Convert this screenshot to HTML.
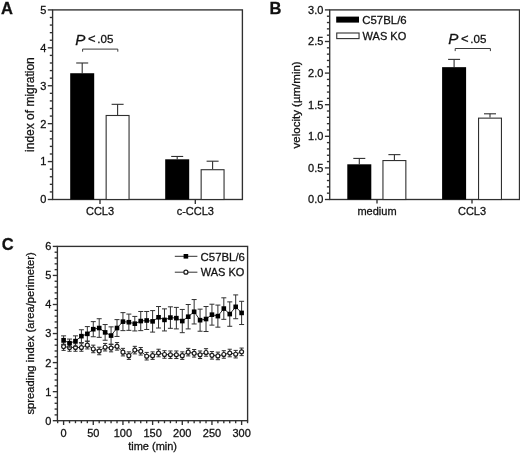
<!DOCTYPE html>
<html><head><meta charset="utf-8"><title>Figure</title>
<style>
html,body{margin:0;padding:0;background:#fff;}
body{width:520px;height:453px;overflow:hidden;}
svg{display:block;}
text{font-family:"Liberation Sans",sans-serif;fill:#111;stroke:#111;stroke-width:0.28px;}
svg{filter:grayscale(1);}
</style></head>
<body>
<svg width="520" height="453" viewBox="0 0 520 453">
<rect x="0" y="0" width="520" height="453" fill="#fff"/>
<text x="1.10" y="13.90" font-size="16.5" text-anchor="start" font-weight="bold">A</text>
<rect x="52.60" y="9.90" width="189.80" height="189.60" fill="none" stroke="#303030" stroke-width="1.35"/>
<line x1="47.80" y1="199.50" x2="52.60" y2="199.50" stroke="#303030" stroke-width="1.35"/>
<text x="46.30" y="203.40" font-size="11" text-anchor="end" >0</text>
<line x1="49.80" y1="191.92" x2="52.60" y2="191.92" stroke="#303030" stroke-width="1.35"/>
<line x1="49.80" y1="184.33" x2="52.60" y2="184.33" stroke="#303030" stroke-width="1.35"/>
<line x1="49.80" y1="176.75" x2="52.60" y2="176.75" stroke="#303030" stroke-width="1.35"/>
<line x1="49.80" y1="169.16" x2="52.60" y2="169.16" stroke="#303030" stroke-width="1.35"/>
<line x1="47.80" y1="161.58" x2="52.60" y2="161.58" stroke="#303030" stroke-width="1.35"/>
<text x="46.30" y="165.48" font-size="11" text-anchor="end" >1</text>
<line x1="49.80" y1="154.00" x2="52.60" y2="154.00" stroke="#303030" stroke-width="1.35"/>
<line x1="49.80" y1="146.41" x2="52.60" y2="146.41" stroke="#303030" stroke-width="1.35"/>
<line x1="49.80" y1="138.83" x2="52.60" y2="138.83" stroke="#303030" stroke-width="1.35"/>
<line x1="49.80" y1="131.24" x2="52.60" y2="131.24" stroke="#303030" stroke-width="1.35"/>
<line x1="47.80" y1="123.66" x2="52.60" y2="123.66" stroke="#303030" stroke-width="1.35"/>
<text x="46.30" y="127.56" font-size="11" text-anchor="end" >2</text>
<line x1="49.80" y1="116.08" x2="52.60" y2="116.08" stroke="#303030" stroke-width="1.35"/>
<line x1="49.80" y1="108.49" x2="52.60" y2="108.49" stroke="#303030" stroke-width="1.35"/>
<line x1="49.80" y1="100.91" x2="52.60" y2="100.91" stroke="#303030" stroke-width="1.35"/>
<line x1="49.80" y1="93.32" x2="52.60" y2="93.32" stroke="#303030" stroke-width="1.35"/>
<line x1="47.80" y1="85.74" x2="52.60" y2="85.74" stroke="#303030" stroke-width="1.35"/>
<text x="46.30" y="89.64" font-size="11" text-anchor="end" >3</text>
<line x1="49.80" y1="78.16" x2="52.60" y2="78.16" stroke="#303030" stroke-width="1.35"/>
<line x1="49.80" y1="70.57" x2="52.60" y2="70.57" stroke="#303030" stroke-width="1.35"/>
<line x1="49.80" y1="62.99" x2="52.60" y2="62.99" stroke="#303030" stroke-width="1.35"/>
<line x1="49.80" y1="55.40" x2="52.60" y2="55.40" stroke="#303030" stroke-width="1.35"/>
<line x1="47.80" y1="47.82" x2="52.60" y2="47.82" stroke="#303030" stroke-width="1.35"/>
<text x="46.30" y="51.72" font-size="11" text-anchor="end" >4</text>
<line x1="49.80" y1="40.24" x2="52.60" y2="40.24" stroke="#303030" stroke-width="1.35"/>
<line x1="49.80" y1="32.65" x2="52.60" y2="32.65" stroke="#303030" stroke-width="1.35"/>
<line x1="49.80" y1="25.07" x2="52.60" y2="25.07" stroke="#303030" stroke-width="1.35"/>
<line x1="49.80" y1="17.48" x2="52.60" y2="17.48" stroke="#303030" stroke-width="1.35"/>
<line x1="47.80" y1="9.90" x2="52.60" y2="9.90" stroke="#303030" stroke-width="1.35"/>
<text x="46.30" y="13.80" font-size="11" text-anchor="end" >5</text>
<line x1="100.00" y1="199.50" x2="100.00" y2="203.90" stroke="#303030" stroke-width="1.35"/>
<text x="100.00" y="215.30" font-size="11" text-anchor="middle" >CCL3</text>
<line x1="195.30" y1="199.50" x2="195.30" y2="203.90" stroke="#303030" stroke-width="1.35"/>
<text x="195.30" y="215.30" font-size="11" text-anchor="middle" >c-CCL3</text>
<line x1="82.20" y1="73.23" x2="82.20" y2="62.99" stroke="#303030" stroke-width="1.1"/>
<line x1="76.20" y1="62.99" x2="88.20" y2="62.99" stroke="#303030" stroke-width="1.1"/>
<rect x="70.20" y="73.23" width="24.00" height="126.27" fill="#000"/>
<line x1="117.60" y1="114.94" x2="117.60" y2="104.32" stroke="#303030" stroke-width="1.1"/>
<line x1="111.60" y1="104.32" x2="123.60" y2="104.32" stroke="#303030" stroke-width="1.1"/>
<rect x="106.15" y="115.49" width="22.90" height="84.01" fill="#fff" stroke="#303030" stroke-width="1.1"/>
<line x1="177.20" y1="159.30" x2="177.20" y2="156.46" stroke="#303030" stroke-width="1.1"/>
<line x1="171.20" y1="156.46" x2="183.20" y2="156.46" stroke="#303030" stroke-width="1.1"/>
<rect x="165.20" y="159.30" width="24.00" height="40.20" fill="#000"/>
<line x1="212.60" y1="169.16" x2="212.60" y2="161.20" stroke="#303030" stroke-width="1.1"/>
<line x1="206.60" y1="161.20" x2="218.60" y2="161.20" stroke="#303030" stroke-width="1.1"/>
<rect x="201.15" y="169.71" width="22.90" height="29.79" fill="#fff" stroke="#303030" stroke-width="1.1"/>
<text transform="translate(75.20,44.60) scale(1.05,1)" font-size="14.5" font-style="italic">P</text>
<text x="88.00" y="43.30" font-size="13" text-anchor="start" >&lt;</text>
<text x="97.30" y="42.90" font-size="11.6" text-anchor="start" >.05</text>
<path d="M82.60,51.70 V49.10 H117.80 V51.70" fill="none" stroke="#3a3a3a" stroke-width="1.0"/>
<text transform="translate(34.2,104.6) rotate(-90)" font-size="12" text-anchor="middle">index of migration</text>
<text x="269.60" y="13.90" font-size="16.5" text-anchor="start" font-weight="bold">B</text>
<rect x="329.70" y="9.90" width="189.80" height="189.60" fill="none" stroke="#303030" stroke-width="1.35"/>
<line x1="324.90" y1="199.50" x2="329.70" y2="199.50" stroke="#303030" stroke-width="1.35"/>
<text x="323.40" y="203.40" font-size="11" text-anchor="end" >0.0</text>
<line x1="326.90" y1="193.18" x2="329.70" y2="193.18" stroke="#303030" stroke-width="1.35"/>
<line x1="326.90" y1="186.86" x2="329.70" y2="186.86" stroke="#303030" stroke-width="1.35"/>
<line x1="326.90" y1="180.54" x2="329.70" y2="180.54" stroke="#303030" stroke-width="1.35"/>
<line x1="326.90" y1="174.22" x2="329.70" y2="174.22" stroke="#303030" stroke-width="1.35"/>
<line x1="324.90" y1="167.90" x2="329.70" y2="167.90" stroke="#303030" stroke-width="1.35"/>
<text x="323.40" y="171.80" font-size="11" text-anchor="end" >0.5</text>
<line x1="326.90" y1="161.58" x2="329.70" y2="161.58" stroke="#303030" stroke-width="1.35"/>
<line x1="326.90" y1="155.26" x2="329.70" y2="155.26" stroke="#303030" stroke-width="1.35"/>
<line x1="326.90" y1="148.94" x2="329.70" y2="148.94" stroke="#303030" stroke-width="1.35"/>
<line x1="326.90" y1="142.62" x2="329.70" y2="142.62" stroke="#303030" stroke-width="1.35"/>
<line x1="324.90" y1="136.30" x2="329.70" y2="136.30" stroke="#303030" stroke-width="1.35"/>
<text x="323.40" y="140.20" font-size="11" text-anchor="end" >1.0</text>
<line x1="326.90" y1="129.98" x2="329.70" y2="129.98" stroke="#303030" stroke-width="1.35"/>
<line x1="326.90" y1="123.66" x2="329.70" y2="123.66" stroke="#303030" stroke-width="1.35"/>
<line x1="326.90" y1="117.34" x2="329.70" y2="117.34" stroke="#303030" stroke-width="1.35"/>
<line x1="326.90" y1="111.02" x2="329.70" y2="111.02" stroke="#303030" stroke-width="1.35"/>
<line x1="324.90" y1="104.70" x2="329.70" y2="104.70" stroke="#303030" stroke-width="1.35"/>
<text x="323.40" y="108.60" font-size="11" text-anchor="end" >1.5</text>
<line x1="326.90" y1="98.38" x2="329.70" y2="98.38" stroke="#303030" stroke-width="1.35"/>
<line x1="326.90" y1="92.06" x2="329.70" y2="92.06" stroke="#303030" stroke-width="1.35"/>
<line x1="326.90" y1="85.74" x2="329.70" y2="85.74" stroke="#303030" stroke-width="1.35"/>
<line x1="326.90" y1="79.42" x2="329.70" y2="79.42" stroke="#303030" stroke-width="1.35"/>
<line x1="324.90" y1="73.10" x2="329.70" y2="73.10" stroke="#303030" stroke-width="1.35"/>
<text x="323.40" y="77.00" font-size="11" text-anchor="end" >2.0</text>
<line x1="326.90" y1="66.78" x2="329.70" y2="66.78" stroke="#303030" stroke-width="1.35"/>
<line x1="326.90" y1="60.46" x2="329.70" y2="60.46" stroke="#303030" stroke-width="1.35"/>
<line x1="326.90" y1="54.14" x2="329.70" y2="54.14" stroke="#303030" stroke-width="1.35"/>
<line x1="326.90" y1="47.82" x2="329.70" y2="47.82" stroke="#303030" stroke-width="1.35"/>
<line x1="324.90" y1="41.50" x2="329.70" y2="41.50" stroke="#303030" stroke-width="1.35"/>
<text x="323.40" y="45.40" font-size="11" text-anchor="end" >2.5</text>
<line x1="326.90" y1="35.18" x2="329.70" y2="35.18" stroke="#303030" stroke-width="1.35"/>
<line x1="326.90" y1="28.86" x2="329.70" y2="28.86" stroke="#303030" stroke-width="1.35"/>
<line x1="326.90" y1="22.54" x2="329.70" y2="22.54" stroke="#303030" stroke-width="1.35"/>
<line x1="326.90" y1="16.22" x2="329.70" y2="16.22" stroke="#303030" stroke-width="1.35"/>
<line x1="324.90" y1="9.90" x2="329.70" y2="9.90" stroke="#303030" stroke-width="1.35"/>
<text x="323.40" y="13.80" font-size="11" text-anchor="end" >3.0</text>
<line x1="377.00" y1="199.50" x2="377.00" y2="203.50" stroke="#303030" stroke-width="1.35"/>
<text x="377.00" y="215.30" font-size="11" text-anchor="middle" >medium</text>
<line x1="472.00" y1="199.50" x2="472.00" y2="203.50" stroke="#303030" stroke-width="1.35"/>
<text x="472.00" y="215.30" font-size="11" text-anchor="middle" >CCL3</text>
<line x1="359.30" y1="164.30" x2="359.30" y2="158.42" stroke="#303030" stroke-width="1.1"/>
<line x1="353.30" y1="158.42" x2="365.30" y2="158.42" stroke="#303030" stroke-width="1.1"/>
<rect x="347.30" y="164.30" width="24.00" height="35.20" fill="#000"/>
<line x1="394.40" y1="160.00" x2="394.40" y2="154.63" stroke="#303030" stroke-width="1.1"/>
<line x1="388.40" y1="154.63" x2="400.40" y2="154.63" stroke="#303030" stroke-width="1.1"/>
<rect x="382.95" y="160.55" width="22.90" height="38.95" fill="#fff" stroke="#303030" stroke-width="1.1"/>
<line x1="454.10" y1="67.16" x2="454.10" y2="59.39" stroke="#303030" stroke-width="1.1"/>
<line x1="448.10" y1="59.39" x2="460.10" y2="59.39" stroke="#303030" stroke-width="1.1"/>
<rect x="442.10" y="67.16" width="24.00" height="132.34" fill="#000"/>
<line x1="490.00" y1="117.59" x2="490.00" y2="113.80" stroke="#303030" stroke-width="1.1"/>
<line x1="484.00" y1="113.80" x2="496.00" y2="113.80" stroke="#303030" stroke-width="1.1"/>
<rect x="478.55" y="118.14" width="22.90" height="81.36" fill="#fff" stroke="#303030" stroke-width="1.1"/>
<text transform="translate(448.20,43.70) scale(1.05,1)" font-size="14.5" font-style="italic">P</text>
<text x="461.00" y="42.90" font-size="13" text-anchor="start" >&lt;</text>
<text x="470.30" y="42.50" font-size="11.6" text-anchor="start" >.05</text>
<path d="M455.20,51.10 V48.50 H490.40 V51.10" fill="none" stroke="#3a3a3a" stroke-width="1.0"/>
<rect x="336.20" y="16.60" width="22.80" height="6.00" fill="#000"/>
<rect x="336.75" y="33.00" width="22.30" height="5.60" fill="#fff" stroke="#303030" stroke-width="1.1"/>
<text x="362.30" y="24.20" font-size="11.4" text-anchor="start" >C57BL/6</text>
<text x="362.60" y="39.80" font-size="11" text-anchor="start" >WAS KO</text>
<text transform="translate(300.0,104.9) rotate(-90)" font-size="11.5" text-anchor="middle">velocity (µm/min)</text>
<text x="1.70" y="249.60" font-size="16.5" text-anchor="start" font-weight="bold">C</text>
<rect x="57.40" y="246.40" width="190.20" height="174.30" fill="none" stroke="#303030" stroke-width="1.35"/>
<line x1="52.80" y1="420.70" x2="57.40" y2="420.70" stroke="#303030" stroke-width="1.35"/>
<text x="51.30" y="424.60" font-size="11" text-anchor="end" >0</text>
<line x1="54.60" y1="414.89" x2="57.40" y2="414.89" stroke="#303030" stroke-width="1.35"/>
<line x1="54.60" y1="409.08" x2="57.40" y2="409.08" stroke="#303030" stroke-width="1.35"/>
<line x1="54.60" y1="403.27" x2="57.40" y2="403.27" stroke="#303030" stroke-width="1.35"/>
<line x1="54.60" y1="397.46" x2="57.40" y2="397.46" stroke="#303030" stroke-width="1.35"/>
<line x1="52.80" y1="391.65" x2="57.40" y2="391.65" stroke="#303030" stroke-width="1.35"/>
<text x="51.30" y="395.55" font-size="11" text-anchor="end" >1</text>
<line x1="54.60" y1="385.84" x2="57.40" y2="385.84" stroke="#303030" stroke-width="1.35"/>
<line x1="54.60" y1="380.03" x2="57.40" y2="380.03" stroke="#303030" stroke-width="1.35"/>
<line x1="54.60" y1="374.22" x2="57.40" y2="374.22" stroke="#303030" stroke-width="1.35"/>
<line x1="54.60" y1="368.41" x2="57.40" y2="368.41" stroke="#303030" stroke-width="1.35"/>
<line x1="52.80" y1="362.60" x2="57.40" y2="362.60" stroke="#303030" stroke-width="1.35"/>
<text x="51.30" y="366.50" font-size="11" text-anchor="end" >2</text>
<line x1="54.60" y1="356.79" x2="57.40" y2="356.79" stroke="#303030" stroke-width="1.35"/>
<line x1="54.60" y1="350.98" x2="57.40" y2="350.98" stroke="#303030" stroke-width="1.35"/>
<line x1="54.60" y1="345.17" x2="57.40" y2="345.17" stroke="#303030" stroke-width="1.35"/>
<line x1="54.60" y1="339.36" x2="57.40" y2="339.36" stroke="#303030" stroke-width="1.35"/>
<line x1="52.80" y1="333.55" x2="57.40" y2="333.55" stroke="#303030" stroke-width="1.35"/>
<text x="51.30" y="337.45" font-size="11" text-anchor="end" >3</text>
<line x1="54.60" y1="327.74" x2="57.40" y2="327.74" stroke="#303030" stroke-width="1.35"/>
<line x1="54.60" y1="321.93" x2="57.40" y2="321.93" stroke="#303030" stroke-width="1.35"/>
<line x1="54.60" y1="316.12" x2="57.40" y2="316.12" stroke="#303030" stroke-width="1.35"/>
<line x1="54.60" y1="310.31" x2="57.40" y2="310.31" stroke="#303030" stroke-width="1.35"/>
<line x1="52.80" y1="304.50" x2="57.40" y2="304.50" stroke="#303030" stroke-width="1.35"/>
<text x="51.30" y="308.40" font-size="11" text-anchor="end" >4</text>
<line x1="54.60" y1="298.69" x2="57.40" y2="298.69" stroke="#303030" stroke-width="1.35"/>
<line x1="54.60" y1="292.88" x2="57.40" y2="292.88" stroke="#303030" stroke-width="1.35"/>
<line x1="54.60" y1="287.07" x2="57.40" y2="287.07" stroke="#303030" stroke-width="1.35"/>
<line x1="54.60" y1="281.26" x2="57.40" y2="281.26" stroke="#303030" stroke-width="1.35"/>
<line x1="52.80" y1="275.45" x2="57.40" y2="275.45" stroke="#303030" stroke-width="1.35"/>
<text x="51.30" y="279.35" font-size="11" text-anchor="end" >5</text>
<line x1="54.60" y1="269.64" x2="57.40" y2="269.64" stroke="#303030" stroke-width="1.35"/>
<line x1="54.60" y1="263.83" x2="57.40" y2="263.83" stroke="#303030" stroke-width="1.35"/>
<line x1="54.60" y1="258.02" x2="57.40" y2="258.02" stroke="#303030" stroke-width="1.35"/>
<line x1="54.60" y1="252.21" x2="57.40" y2="252.21" stroke="#303030" stroke-width="1.35"/>
<line x1="52.80" y1="246.40" x2="57.40" y2="246.40" stroke="#303030" stroke-width="1.35"/>
<text x="51.30" y="250.30" font-size="11" text-anchor="end" >6</text>
<line x1="57.67" y1="420.70" x2="57.67" y2="423.20" stroke="#303030" stroke-width="1.35"/>
<line x1="63.60" y1="420.70" x2="63.60" y2="425.00" stroke="#303030" stroke-width="1.35"/>
<text x="63.60" y="437.40" font-size="11" text-anchor="middle" >0</text>
<line x1="69.53" y1="420.70" x2="69.53" y2="423.20" stroke="#303030" stroke-width="1.35"/>
<line x1="75.47" y1="420.70" x2="75.47" y2="423.20" stroke="#303030" stroke-width="1.35"/>
<line x1="81.40" y1="420.70" x2="81.40" y2="423.20" stroke="#303030" stroke-width="1.35"/>
<line x1="87.34" y1="420.70" x2="87.34" y2="423.20" stroke="#303030" stroke-width="1.35"/>
<line x1="93.27" y1="420.70" x2="93.27" y2="425.00" stroke="#303030" stroke-width="1.35"/>
<text x="93.27" y="437.40" font-size="11" text-anchor="middle" >50</text>
<line x1="99.20" y1="420.70" x2="99.20" y2="423.20" stroke="#303030" stroke-width="1.35"/>
<line x1="105.14" y1="420.70" x2="105.14" y2="423.20" stroke="#303030" stroke-width="1.35"/>
<line x1="111.07" y1="420.70" x2="111.07" y2="423.20" stroke="#303030" stroke-width="1.35"/>
<line x1="117.01" y1="420.70" x2="117.01" y2="423.20" stroke="#303030" stroke-width="1.35"/>
<line x1="122.94" y1="420.70" x2="122.94" y2="425.00" stroke="#303030" stroke-width="1.35"/>
<text x="122.94" y="437.40" font-size="11" text-anchor="middle" >100</text>
<line x1="128.87" y1="420.70" x2="128.87" y2="423.20" stroke="#303030" stroke-width="1.35"/>
<line x1="134.81" y1="420.70" x2="134.81" y2="423.20" stroke="#303030" stroke-width="1.35"/>
<line x1="140.74" y1="420.70" x2="140.74" y2="423.20" stroke="#303030" stroke-width="1.35"/>
<line x1="146.68" y1="420.70" x2="146.68" y2="423.20" stroke="#303030" stroke-width="1.35"/>
<line x1="152.61" y1="420.70" x2="152.61" y2="425.00" stroke="#303030" stroke-width="1.35"/>
<text x="152.61" y="437.40" font-size="11" text-anchor="middle" >150</text>
<line x1="158.54" y1="420.70" x2="158.54" y2="423.20" stroke="#303030" stroke-width="1.35"/>
<line x1="164.48" y1="420.70" x2="164.48" y2="423.20" stroke="#303030" stroke-width="1.35"/>
<line x1="170.41" y1="420.70" x2="170.41" y2="423.20" stroke="#303030" stroke-width="1.35"/>
<line x1="176.35" y1="420.70" x2="176.35" y2="423.20" stroke="#303030" stroke-width="1.35"/>
<line x1="182.28" y1="420.70" x2="182.28" y2="425.00" stroke="#303030" stroke-width="1.35"/>
<text x="182.28" y="437.40" font-size="11" text-anchor="middle" >200</text>
<line x1="188.21" y1="420.70" x2="188.21" y2="423.20" stroke="#303030" stroke-width="1.35"/>
<line x1="194.15" y1="420.70" x2="194.15" y2="423.20" stroke="#303030" stroke-width="1.35"/>
<line x1="200.08" y1="420.70" x2="200.08" y2="423.20" stroke="#303030" stroke-width="1.35"/>
<line x1="206.02" y1="420.70" x2="206.02" y2="423.20" stroke="#303030" stroke-width="1.35"/>
<line x1="211.95" y1="420.70" x2="211.95" y2="425.00" stroke="#303030" stroke-width="1.35"/>
<text x="211.95" y="437.40" font-size="11" text-anchor="middle" >250</text>
<line x1="217.88" y1="420.70" x2="217.88" y2="423.20" stroke="#303030" stroke-width="1.35"/>
<line x1="223.82" y1="420.70" x2="223.82" y2="423.20" stroke="#303030" stroke-width="1.35"/>
<line x1="229.75" y1="420.70" x2="229.75" y2="423.20" stroke="#303030" stroke-width="1.35"/>
<line x1="235.69" y1="420.70" x2="235.69" y2="423.20" stroke="#303030" stroke-width="1.35"/>
<line x1="241.62" y1="420.70" x2="241.62" y2="425.00" stroke="#303030" stroke-width="1.35"/>
<text x="241.62" y="437.40" font-size="11" text-anchor="middle" >300</text>
<line x1="247.55" y1="420.70" x2="247.55" y2="423.20" stroke="#303030" stroke-width="1.35"/>
<text x="152.60" y="450.40" font-size="11" text-anchor="middle" >time (min)</text>
<text transform="translate(34.2,333.4) rotate(-90)" font-size="11.2" text-anchor="middle">spreading index (area/perimeter)</text>
<polyline points="63.60,346.62 69.53,347.49 75.47,347.49 81.40,347.49 87.34,345.17 93.27,348.95 99.20,350.98 105.14,347.20 111.07,348.07 117.01,346.33 122.94,352.14 128.87,355.63 134.81,350.11 140.74,351.27 146.68,356.21 152.61,355.63 158.54,353.01 164.48,354.47 170.41,354.76 176.35,354.76 182.28,355.63 188.21,352.14 194.15,353.30 200.08,354.76 206.02,352.43 211.95,355.34 217.88,355.92 223.82,354.47 229.75,353.01 235.69,354.18 241.62,351.85" fill="none" stroke="#303030" stroke-width="1"/>
<line x1="63.60" y1="350.40" x2="63.60" y2="342.85" stroke="#303030" stroke-width="1"/>
<line x1="61.50" y1="342.85" x2="65.70" y2="342.85" stroke="#303030" stroke-width="1"/>
<line x1="61.50" y1="350.40" x2="65.70" y2="350.40" stroke="#303030" stroke-width="1"/>
<line x1="69.53" y1="351.27" x2="69.53" y2="343.72" stroke="#303030" stroke-width="1"/>
<line x1="67.43" y1="343.72" x2="71.63" y2="343.72" stroke="#303030" stroke-width="1"/>
<line x1="67.43" y1="351.27" x2="71.63" y2="351.27" stroke="#303030" stroke-width="1"/>
<line x1="75.47" y1="351.27" x2="75.47" y2="343.72" stroke="#303030" stroke-width="1"/>
<line x1="73.37" y1="343.72" x2="77.57" y2="343.72" stroke="#303030" stroke-width="1"/>
<line x1="73.37" y1="351.27" x2="77.57" y2="351.27" stroke="#303030" stroke-width="1"/>
<line x1="81.40" y1="351.27" x2="81.40" y2="343.72" stroke="#303030" stroke-width="1"/>
<line x1="79.30" y1="343.72" x2="83.50" y2="343.72" stroke="#303030" stroke-width="1"/>
<line x1="79.30" y1="351.27" x2="83.50" y2="351.27" stroke="#303030" stroke-width="1"/>
<line x1="87.34" y1="348.95" x2="87.34" y2="341.39" stroke="#303030" stroke-width="1"/>
<line x1="85.24" y1="341.39" x2="89.44" y2="341.39" stroke="#303030" stroke-width="1"/>
<line x1="85.24" y1="348.95" x2="89.44" y2="348.95" stroke="#303030" stroke-width="1"/>
<line x1="93.27" y1="352.72" x2="93.27" y2="345.17" stroke="#303030" stroke-width="1"/>
<line x1="91.17" y1="345.17" x2="95.37" y2="345.17" stroke="#303030" stroke-width="1"/>
<line x1="91.17" y1="352.72" x2="95.37" y2="352.72" stroke="#303030" stroke-width="1"/>
<line x1="99.20" y1="354.76" x2="99.20" y2="347.20" stroke="#303030" stroke-width="1"/>
<line x1="97.10" y1="347.20" x2="101.30" y2="347.20" stroke="#303030" stroke-width="1"/>
<line x1="97.10" y1="354.76" x2="101.30" y2="354.76" stroke="#303030" stroke-width="1"/>
<line x1="105.14" y1="350.98" x2="105.14" y2="343.43" stroke="#303030" stroke-width="1"/>
<line x1="103.04" y1="343.43" x2="107.24" y2="343.43" stroke="#303030" stroke-width="1"/>
<line x1="103.04" y1="350.98" x2="107.24" y2="350.98" stroke="#303030" stroke-width="1"/>
<line x1="111.07" y1="351.85" x2="111.07" y2="344.30" stroke="#303030" stroke-width="1"/>
<line x1="108.97" y1="344.30" x2="113.17" y2="344.30" stroke="#303030" stroke-width="1"/>
<line x1="108.97" y1="351.85" x2="113.17" y2="351.85" stroke="#303030" stroke-width="1"/>
<line x1="117.01" y1="350.11" x2="117.01" y2="342.56" stroke="#303030" stroke-width="1"/>
<line x1="114.91" y1="342.56" x2="119.11" y2="342.56" stroke="#303030" stroke-width="1"/>
<line x1="114.91" y1="350.11" x2="119.11" y2="350.11" stroke="#303030" stroke-width="1"/>
<line x1="122.94" y1="355.92" x2="122.94" y2="348.37" stroke="#303030" stroke-width="1"/>
<line x1="120.84" y1="348.37" x2="125.04" y2="348.37" stroke="#303030" stroke-width="1"/>
<line x1="120.84" y1="355.92" x2="125.04" y2="355.92" stroke="#303030" stroke-width="1"/>
<line x1="128.87" y1="359.40" x2="128.87" y2="351.85" stroke="#303030" stroke-width="1"/>
<line x1="126.77" y1="351.85" x2="130.97" y2="351.85" stroke="#303030" stroke-width="1"/>
<line x1="126.77" y1="359.40" x2="130.97" y2="359.40" stroke="#303030" stroke-width="1"/>
<line x1="134.81" y1="353.88" x2="134.81" y2="346.33" stroke="#303030" stroke-width="1"/>
<line x1="132.71" y1="346.33" x2="136.91" y2="346.33" stroke="#303030" stroke-width="1"/>
<line x1="132.71" y1="353.88" x2="136.91" y2="353.88" stroke="#303030" stroke-width="1"/>
<line x1="140.74" y1="355.05" x2="140.74" y2="347.49" stroke="#303030" stroke-width="1"/>
<line x1="138.64" y1="347.49" x2="142.84" y2="347.49" stroke="#303030" stroke-width="1"/>
<line x1="138.64" y1="355.05" x2="142.84" y2="355.05" stroke="#303030" stroke-width="1"/>
<line x1="146.68" y1="359.99" x2="146.68" y2="352.43" stroke="#303030" stroke-width="1"/>
<line x1="144.58" y1="352.43" x2="148.78" y2="352.43" stroke="#303030" stroke-width="1"/>
<line x1="144.58" y1="359.99" x2="148.78" y2="359.99" stroke="#303030" stroke-width="1"/>
<line x1="152.61" y1="359.40" x2="152.61" y2="351.85" stroke="#303030" stroke-width="1"/>
<line x1="150.51" y1="351.85" x2="154.71" y2="351.85" stroke="#303030" stroke-width="1"/>
<line x1="150.51" y1="359.40" x2="154.71" y2="359.40" stroke="#303030" stroke-width="1"/>
<line x1="158.54" y1="356.79" x2="158.54" y2="349.24" stroke="#303030" stroke-width="1"/>
<line x1="156.44" y1="349.24" x2="160.64" y2="349.24" stroke="#303030" stroke-width="1"/>
<line x1="156.44" y1="356.79" x2="160.64" y2="356.79" stroke="#303030" stroke-width="1"/>
<line x1="164.48" y1="358.24" x2="164.48" y2="350.69" stroke="#303030" stroke-width="1"/>
<line x1="162.38" y1="350.69" x2="166.58" y2="350.69" stroke="#303030" stroke-width="1"/>
<line x1="162.38" y1="358.24" x2="166.58" y2="358.24" stroke="#303030" stroke-width="1"/>
<line x1="170.41" y1="358.53" x2="170.41" y2="350.98" stroke="#303030" stroke-width="1"/>
<line x1="168.31" y1="350.98" x2="172.51" y2="350.98" stroke="#303030" stroke-width="1"/>
<line x1="168.31" y1="358.53" x2="172.51" y2="358.53" stroke="#303030" stroke-width="1"/>
<line x1="176.35" y1="358.53" x2="176.35" y2="350.98" stroke="#303030" stroke-width="1"/>
<line x1="174.25" y1="350.98" x2="178.45" y2="350.98" stroke="#303030" stroke-width="1"/>
<line x1="174.25" y1="358.53" x2="178.45" y2="358.53" stroke="#303030" stroke-width="1"/>
<line x1="182.28" y1="359.40" x2="182.28" y2="351.85" stroke="#303030" stroke-width="1"/>
<line x1="180.18" y1="351.85" x2="184.38" y2="351.85" stroke="#303030" stroke-width="1"/>
<line x1="180.18" y1="359.40" x2="184.38" y2="359.40" stroke="#303030" stroke-width="1"/>
<line x1="188.21" y1="355.92" x2="188.21" y2="348.37" stroke="#303030" stroke-width="1"/>
<line x1="186.11" y1="348.37" x2="190.31" y2="348.37" stroke="#303030" stroke-width="1"/>
<line x1="186.11" y1="355.92" x2="190.31" y2="355.92" stroke="#303030" stroke-width="1"/>
<line x1="194.15" y1="357.08" x2="194.15" y2="349.53" stroke="#303030" stroke-width="1"/>
<line x1="192.05" y1="349.53" x2="196.25" y2="349.53" stroke="#303030" stroke-width="1"/>
<line x1="192.05" y1="357.08" x2="196.25" y2="357.08" stroke="#303030" stroke-width="1"/>
<line x1="200.08" y1="358.53" x2="200.08" y2="350.98" stroke="#303030" stroke-width="1"/>
<line x1="197.98" y1="350.98" x2="202.18" y2="350.98" stroke="#303030" stroke-width="1"/>
<line x1="197.98" y1="358.53" x2="202.18" y2="358.53" stroke="#303030" stroke-width="1"/>
<line x1="206.02" y1="356.21" x2="206.02" y2="348.66" stroke="#303030" stroke-width="1"/>
<line x1="203.92" y1="348.66" x2="208.12" y2="348.66" stroke="#303030" stroke-width="1"/>
<line x1="203.92" y1="356.21" x2="208.12" y2="356.21" stroke="#303030" stroke-width="1"/>
<line x1="211.95" y1="359.11" x2="211.95" y2="351.56" stroke="#303030" stroke-width="1"/>
<line x1="209.85" y1="351.56" x2="214.05" y2="351.56" stroke="#303030" stroke-width="1"/>
<line x1="209.85" y1="359.11" x2="214.05" y2="359.11" stroke="#303030" stroke-width="1"/>
<line x1="217.88" y1="359.69" x2="217.88" y2="352.14" stroke="#303030" stroke-width="1"/>
<line x1="215.78" y1="352.14" x2="219.98" y2="352.14" stroke="#303030" stroke-width="1"/>
<line x1="215.78" y1="359.69" x2="219.98" y2="359.69" stroke="#303030" stroke-width="1"/>
<line x1="223.82" y1="358.24" x2="223.82" y2="350.69" stroke="#303030" stroke-width="1"/>
<line x1="221.72" y1="350.69" x2="225.92" y2="350.69" stroke="#303030" stroke-width="1"/>
<line x1="221.72" y1="358.24" x2="225.92" y2="358.24" stroke="#303030" stroke-width="1"/>
<line x1="229.75" y1="356.79" x2="229.75" y2="349.24" stroke="#303030" stroke-width="1"/>
<line x1="227.65" y1="349.24" x2="231.85" y2="349.24" stroke="#303030" stroke-width="1"/>
<line x1="227.65" y1="356.79" x2="231.85" y2="356.79" stroke="#303030" stroke-width="1"/>
<line x1="235.69" y1="357.95" x2="235.69" y2="350.40" stroke="#303030" stroke-width="1"/>
<line x1="233.59" y1="350.40" x2="237.79" y2="350.40" stroke="#303030" stroke-width="1"/>
<line x1="233.59" y1="357.95" x2="237.79" y2="357.95" stroke="#303030" stroke-width="1"/>
<line x1="241.62" y1="355.63" x2="241.62" y2="348.07" stroke="#303030" stroke-width="1"/>
<line x1="239.52" y1="348.07" x2="243.72" y2="348.07" stroke="#303030" stroke-width="1"/>
<line x1="239.52" y1="355.63" x2="243.72" y2="355.63" stroke="#303030" stroke-width="1"/>
<circle cx="63.60" cy="346.62" r="1.95" fill="#fff" stroke="#1a1a1a" stroke-width="1.2"/>
<circle cx="69.53" cy="347.49" r="1.95" fill="#fff" stroke="#1a1a1a" stroke-width="1.2"/>
<circle cx="75.47" cy="347.49" r="1.95" fill="#fff" stroke="#1a1a1a" stroke-width="1.2"/>
<circle cx="81.40" cy="347.49" r="1.95" fill="#fff" stroke="#1a1a1a" stroke-width="1.2"/>
<circle cx="87.34" cy="345.17" r="1.95" fill="#fff" stroke="#1a1a1a" stroke-width="1.2"/>
<circle cx="93.27" cy="348.95" r="1.95" fill="#fff" stroke="#1a1a1a" stroke-width="1.2"/>
<circle cx="99.20" cy="350.98" r="1.95" fill="#fff" stroke="#1a1a1a" stroke-width="1.2"/>
<circle cx="105.14" cy="347.20" r="1.95" fill="#fff" stroke="#1a1a1a" stroke-width="1.2"/>
<circle cx="111.07" cy="348.07" r="1.95" fill="#fff" stroke="#1a1a1a" stroke-width="1.2"/>
<circle cx="117.01" cy="346.33" r="1.95" fill="#fff" stroke="#1a1a1a" stroke-width="1.2"/>
<circle cx="122.94" cy="352.14" r="1.95" fill="#fff" stroke="#1a1a1a" stroke-width="1.2"/>
<circle cx="128.87" cy="355.63" r="1.95" fill="#fff" stroke="#1a1a1a" stroke-width="1.2"/>
<circle cx="134.81" cy="350.11" r="1.95" fill="#fff" stroke="#1a1a1a" stroke-width="1.2"/>
<circle cx="140.74" cy="351.27" r="1.95" fill="#fff" stroke="#1a1a1a" stroke-width="1.2"/>
<circle cx="146.68" cy="356.21" r="1.95" fill="#fff" stroke="#1a1a1a" stroke-width="1.2"/>
<circle cx="152.61" cy="355.63" r="1.95" fill="#fff" stroke="#1a1a1a" stroke-width="1.2"/>
<circle cx="158.54" cy="353.01" r="1.95" fill="#fff" stroke="#1a1a1a" stroke-width="1.2"/>
<circle cx="164.48" cy="354.47" r="1.95" fill="#fff" stroke="#1a1a1a" stroke-width="1.2"/>
<circle cx="170.41" cy="354.76" r="1.95" fill="#fff" stroke="#1a1a1a" stroke-width="1.2"/>
<circle cx="176.35" cy="354.76" r="1.95" fill="#fff" stroke="#1a1a1a" stroke-width="1.2"/>
<circle cx="182.28" cy="355.63" r="1.95" fill="#fff" stroke="#1a1a1a" stroke-width="1.2"/>
<circle cx="188.21" cy="352.14" r="1.95" fill="#fff" stroke="#1a1a1a" stroke-width="1.2"/>
<circle cx="194.15" cy="353.30" r="1.95" fill="#fff" stroke="#1a1a1a" stroke-width="1.2"/>
<circle cx="200.08" cy="354.76" r="1.95" fill="#fff" stroke="#1a1a1a" stroke-width="1.2"/>
<circle cx="206.02" cy="352.43" r="1.95" fill="#fff" stroke="#1a1a1a" stroke-width="1.2"/>
<circle cx="211.95" cy="355.34" r="1.95" fill="#fff" stroke="#1a1a1a" stroke-width="1.2"/>
<circle cx="217.88" cy="355.92" r="1.95" fill="#fff" stroke="#1a1a1a" stroke-width="1.2"/>
<circle cx="223.82" cy="354.47" r="1.95" fill="#fff" stroke="#1a1a1a" stroke-width="1.2"/>
<circle cx="229.75" cy="353.01" r="1.95" fill="#fff" stroke="#1a1a1a" stroke-width="1.2"/>
<circle cx="235.69" cy="354.18" r="1.95" fill="#fff" stroke="#1a1a1a" stroke-width="1.2"/>
<circle cx="241.62" cy="351.85" r="1.95" fill="#fff" stroke="#1a1a1a" stroke-width="1.2"/>
<polyline points="63.60,340.23 69.53,343.14 75.47,341.10 81.40,336.16 87.34,333.84 93.27,329.19 99.20,328.03 105.14,332.39 111.07,335.58 117.01,328.03 122.94,321.64 128.87,322.22 134.81,323.67 140.74,321.06 146.68,320.48 152.61,321.35 158.54,317.28 164.48,319.90 170.41,317.57 176.35,318.15 182.28,321.06 188.21,316.70 194.15,311.76 200.08,320.19 206.02,319.02 211.95,314.67 217.88,316.12 223.82,308.57 229.75,314.09 235.69,306.82 241.62,312.92" fill="none" stroke="#303030" stroke-width="1"/>
<line x1="63.60" y1="344.59" x2="63.60" y2="335.87" stroke="#303030" stroke-width="1"/>
<line x1="61.10" y1="335.87" x2="66.10" y2="335.87" stroke="#303030" stroke-width="1"/>
<line x1="61.10" y1="344.59" x2="66.10" y2="344.59" stroke="#303030" stroke-width="1"/>
<line x1="69.53" y1="347.20" x2="69.53" y2="339.07" stroke="#303030" stroke-width="1"/>
<line x1="67.03" y1="339.07" x2="72.03" y2="339.07" stroke="#303030" stroke-width="1"/>
<line x1="67.03" y1="347.20" x2="72.03" y2="347.20" stroke="#303030" stroke-width="1"/>
<line x1="75.47" y1="346.33" x2="75.47" y2="335.87" stroke="#303030" stroke-width="1"/>
<line x1="72.97" y1="335.87" x2="77.97" y2="335.87" stroke="#303030" stroke-width="1"/>
<line x1="72.97" y1="346.33" x2="77.97" y2="346.33" stroke="#303030" stroke-width="1"/>
<line x1="81.40" y1="342.56" x2="81.40" y2="329.77" stroke="#303030" stroke-width="1"/>
<line x1="78.90" y1="329.77" x2="83.90" y2="329.77" stroke="#303030" stroke-width="1"/>
<line x1="78.90" y1="342.56" x2="83.90" y2="342.56" stroke="#303030" stroke-width="1"/>
<line x1="87.34" y1="341.10" x2="87.34" y2="326.58" stroke="#303030" stroke-width="1"/>
<line x1="84.84" y1="326.58" x2="89.84" y2="326.58" stroke="#303030" stroke-width="1"/>
<line x1="84.84" y1="341.10" x2="89.84" y2="341.10" stroke="#303030" stroke-width="1"/>
<line x1="93.27" y1="336.75" x2="93.27" y2="321.64" stroke="#303030" stroke-width="1"/>
<line x1="90.77" y1="321.64" x2="95.77" y2="321.64" stroke="#303030" stroke-width="1"/>
<line x1="90.77" y1="336.75" x2="95.77" y2="336.75" stroke="#303030" stroke-width="1"/>
<line x1="99.20" y1="337.33" x2="99.20" y2="318.73" stroke="#303030" stroke-width="1"/>
<line x1="96.70" y1="318.73" x2="101.70" y2="318.73" stroke="#303030" stroke-width="1"/>
<line x1="96.70" y1="337.33" x2="101.70" y2="337.33" stroke="#303030" stroke-width="1"/>
<line x1="105.14" y1="340.23" x2="105.14" y2="324.54" stroke="#303030" stroke-width="1"/>
<line x1="102.64" y1="324.54" x2="107.64" y2="324.54" stroke="#303030" stroke-width="1"/>
<line x1="102.64" y1="340.23" x2="107.64" y2="340.23" stroke="#303030" stroke-width="1"/>
<line x1="111.07" y1="344.30" x2="111.07" y2="326.87" stroke="#303030" stroke-width="1"/>
<line x1="108.57" y1="326.87" x2="113.57" y2="326.87" stroke="#303030" stroke-width="1"/>
<line x1="108.57" y1="344.30" x2="113.57" y2="344.30" stroke="#303030" stroke-width="1"/>
<line x1="117.01" y1="336.45" x2="117.01" y2="319.61" stroke="#303030" stroke-width="1"/>
<line x1="114.51" y1="319.61" x2="119.51" y2="319.61" stroke="#303030" stroke-width="1"/>
<line x1="114.51" y1="336.45" x2="119.51" y2="336.45" stroke="#303030" stroke-width="1"/>
<line x1="122.94" y1="330.64" x2="122.94" y2="312.63" stroke="#303030" stroke-width="1"/>
<line x1="120.44" y1="312.63" x2="125.44" y2="312.63" stroke="#303030" stroke-width="1"/>
<line x1="120.44" y1="330.64" x2="125.44" y2="330.64" stroke="#303030" stroke-width="1"/>
<line x1="128.87" y1="330.35" x2="128.87" y2="314.09" stroke="#303030" stroke-width="1"/>
<line x1="126.37" y1="314.09" x2="131.37" y2="314.09" stroke="#303030" stroke-width="1"/>
<line x1="126.37" y1="330.35" x2="131.37" y2="330.35" stroke="#303030" stroke-width="1"/>
<line x1="134.81" y1="330.94" x2="134.81" y2="316.41" stroke="#303030" stroke-width="1"/>
<line x1="132.31" y1="316.41" x2="137.31" y2="316.41" stroke="#303030" stroke-width="1"/>
<line x1="132.31" y1="330.94" x2="137.31" y2="330.94" stroke="#303030" stroke-width="1"/>
<line x1="140.74" y1="330.64" x2="140.74" y2="311.47" stroke="#303030" stroke-width="1"/>
<line x1="138.24" y1="311.47" x2="143.24" y2="311.47" stroke="#303030" stroke-width="1"/>
<line x1="138.24" y1="330.64" x2="143.24" y2="330.64" stroke="#303030" stroke-width="1"/>
<line x1="146.68" y1="329.48" x2="146.68" y2="311.47" stroke="#303030" stroke-width="1"/>
<line x1="144.18" y1="311.47" x2="149.18" y2="311.47" stroke="#303030" stroke-width="1"/>
<line x1="144.18" y1="329.48" x2="149.18" y2="329.48" stroke="#303030" stroke-width="1"/>
<line x1="152.61" y1="332.10" x2="152.61" y2="310.60" stroke="#303030" stroke-width="1"/>
<line x1="150.11" y1="310.60" x2="155.11" y2="310.60" stroke="#303030" stroke-width="1"/>
<line x1="150.11" y1="332.10" x2="155.11" y2="332.10" stroke="#303030" stroke-width="1"/>
<line x1="158.54" y1="328.03" x2="158.54" y2="306.53" stroke="#303030" stroke-width="1"/>
<line x1="156.04" y1="306.53" x2="161.04" y2="306.53" stroke="#303030" stroke-width="1"/>
<line x1="156.04" y1="328.03" x2="161.04" y2="328.03" stroke="#303030" stroke-width="1"/>
<line x1="164.48" y1="330.94" x2="164.48" y2="308.86" stroke="#303030" stroke-width="1"/>
<line x1="161.98" y1="308.86" x2="166.98" y2="308.86" stroke="#303030" stroke-width="1"/>
<line x1="161.98" y1="330.94" x2="166.98" y2="330.94" stroke="#303030" stroke-width="1"/>
<line x1="170.41" y1="328.32" x2="170.41" y2="306.82" stroke="#303030" stroke-width="1"/>
<line x1="167.91" y1="306.82" x2="172.91" y2="306.82" stroke="#303030" stroke-width="1"/>
<line x1="167.91" y1="328.32" x2="172.91" y2="328.32" stroke="#303030" stroke-width="1"/>
<line x1="176.35" y1="328.90" x2="176.35" y2="307.40" stroke="#303030" stroke-width="1"/>
<line x1="173.85" y1="307.40" x2="178.85" y2="307.40" stroke="#303030" stroke-width="1"/>
<line x1="173.85" y1="328.90" x2="178.85" y2="328.90" stroke="#303030" stroke-width="1"/>
<line x1="182.28" y1="332.68" x2="182.28" y2="309.44" stroke="#303030" stroke-width="1"/>
<line x1="179.78" y1="309.44" x2="184.78" y2="309.44" stroke="#303030" stroke-width="1"/>
<line x1="179.78" y1="332.68" x2="184.78" y2="332.68" stroke="#303030" stroke-width="1"/>
<line x1="188.21" y1="328.90" x2="188.21" y2="304.50" stroke="#303030" stroke-width="1"/>
<line x1="185.71" y1="304.50" x2="190.71" y2="304.50" stroke="#303030" stroke-width="1"/>
<line x1="185.71" y1="328.90" x2="190.71" y2="328.90" stroke="#303030" stroke-width="1"/>
<line x1="194.15" y1="323.96" x2="194.15" y2="299.56" stroke="#303030" stroke-width="1"/>
<line x1="191.65" y1="299.56" x2="196.65" y2="299.56" stroke="#303030" stroke-width="1"/>
<line x1="191.65" y1="323.96" x2="196.65" y2="323.96" stroke="#303030" stroke-width="1"/>
<line x1="200.08" y1="331.23" x2="200.08" y2="309.15" stroke="#303030" stroke-width="1"/>
<line x1="197.58" y1="309.15" x2="202.58" y2="309.15" stroke="#303030" stroke-width="1"/>
<line x1="197.58" y1="331.23" x2="202.58" y2="331.23" stroke="#303030" stroke-width="1"/>
<line x1="206.02" y1="331.52" x2="206.02" y2="306.53" stroke="#303030" stroke-width="1"/>
<line x1="203.52" y1="306.53" x2="208.52" y2="306.53" stroke="#303030" stroke-width="1"/>
<line x1="203.52" y1="331.52" x2="208.52" y2="331.52" stroke="#303030" stroke-width="1"/>
<line x1="211.95" y1="325.13" x2="211.95" y2="304.21" stroke="#303030" stroke-width="1"/>
<line x1="209.45" y1="304.21" x2="214.45" y2="304.21" stroke="#303030" stroke-width="1"/>
<line x1="209.45" y1="325.13" x2="214.45" y2="325.13" stroke="#303030" stroke-width="1"/>
<line x1="217.88" y1="327.16" x2="217.88" y2="305.08" stroke="#303030" stroke-width="1"/>
<line x1="215.38" y1="305.08" x2="220.38" y2="305.08" stroke="#303030" stroke-width="1"/>
<line x1="215.38" y1="327.16" x2="220.38" y2="327.16" stroke="#303030" stroke-width="1"/>
<line x1="223.82" y1="319.32" x2="223.82" y2="297.82" stroke="#303030" stroke-width="1"/>
<line x1="221.32" y1="297.82" x2="226.32" y2="297.82" stroke="#303030" stroke-width="1"/>
<line x1="221.32" y1="319.32" x2="226.32" y2="319.32" stroke="#303030" stroke-width="1"/>
<line x1="229.75" y1="326.29" x2="229.75" y2="301.89" stroke="#303030" stroke-width="1"/>
<line x1="227.25" y1="301.89" x2="232.25" y2="301.89" stroke="#303030" stroke-width="1"/>
<line x1="227.25" y1="326.29" x2="232.25" y2="326.29" stroke="#303030" stroke-width="1"/>
<line x1="235.69" y1="318.73" x2="235.69" y2="294.91" stroke="#303030" stroke-width="1"/>
<line x1="233.19" y1="294.91" x2="238.19" y2="294.91" stroke="#303030" stroke-width="1"/>
<line x1="233.19" y1="318.73" x2="238.19" y2="318.73" stroke="#303030" stroke-width="1"/>
<line x1="241.62" y1="324.54" x2="241.62" y2="301.30" stroke="#303030" stroke-width="1"/>
<line x1="239.12" y1="301.30" x2="244.12" y2="301.30" stroke="#303030" stroke-width="1"/>
<line x1="239.12" y1="324.54" x2="244.12" y2="324.54" stroke="#303030" stroke-width="1"/>
<rect x="61.30" y="337.93" width="4.60" height="4.60" fill="#000"/>
<rect x="67.23" y="340.84" width="4.60" height="4.60" fill="#000"/>
<rect x="73.17" y="338.80" width="4.60" height="4.60" fill="#000"/>
<rect x="79.10" y="333.86" width="4.60" height="4.60" fill="#000"/>
<rect x="85.04" y="331.54" width="4.60" height="4.60" fill="#000"/>
<rect x="90.97" y="326.89" width="4.60" height="4.60" fill="#000"/>
<rect x="96.90" y="325.73" width="4.60" height="4.60" fill="#000"/>
<rect x="102.84" y="330.09" width="4.60" height="4.60" fill="#000"/>
<rect x="108.77" y="333.28" width="4.60" height="4.60" fill="#000"/>
<rect x="114.71" y="325.73" width="4.60" height="4.60" fill="#000"/>
<rect x="120.64" y="319.34" width="4.60" height="4.60" fill="#000"/>
<rect x="126.57" y="319.92" width="4.60" height="4.60" fill="#000"/>
<rect x="132.51" y="321.37" width="4.60" height="4.60" fill="#000"/>
<rect x="138.44" y="318.76" width="4.60" height="4.60" fill="#000"/>
<rect x="144.38" y="318.18" width="4.60" height="4.60" fill="#000"/>
<rect x="150.31" y="319.05" width="4.60" height="4.60" fill="#000"/>
<rect x="156.24" y="314.98" width="4.60" height="4.60" fill="#000"/>
<rect x="162.18" y="317.60" width="4.60" height="4.60" fill="#000"/>
<rect x="168.11" y="315.27" width="4.60" height="4.60" fill="#000"/>
<rect x="174.05" y="315.85" width="4.60" height="4.60" fill="#000"/>
<rect x="179.98" y="318.76" width="4.60" height="4.60" fill="#000"/>
<rect x="185.91" y="314.40" width="4.60" height="4.60" fill="#000"/>
<rect x="191.85" y="309.46" width="4.60" height="4.60" fill="#000"/>
<rect x="197.78" y="317.89" width="4.60" height="4.60" fill="#000"/>
<rect x="203.72" y="316.72" width="4.60" height="4.60" fill="#000"/>
<rect x="209.65" y="312.37" width="4.60" height="4.60" fill="#000"/>
<rect x="215.58" y="313.82" width="4.60" height="4.60" fill="#000"/>
<rect x="221.52" y="306.27" width="4.60" height="4.60" fill="#000"/>
<rect x="227.45" y="311.79" width="4.60" height="4.60" fill="#000"/>
<rect x="233.39" y="304.52" width="4.60" height="4.60" fill="#000"/>
<rect x="239.32" y="310.62" width="4.60" height="4.60" fill="#000"/>
<line x1="174.80" y1="256.30" x2="197.40" y2="256.30" stroke="#303030" stroke-width="1"/>
<rect x="183.60" y="254.00" width="4.60" height="4.60" fill="#000"/>
<text x="200.60" y="260.60" font-size="11.4" text-anchor="start" >C57BL/6</text>
<line x1="174.80" y1="272.20" x2="197.40" y2="272.20" stroke="#303030" stroke-width="1"/>
<circle cx="185.9" cy="272.2" r="2.0" fill="#fff" stroke="#1a1a1a" stroke-width="1.2"/>
<text x="200.80" y="276.40" font-size="11" text-anchor="start" >WAS KO</text>
</svg>
</body></html>
